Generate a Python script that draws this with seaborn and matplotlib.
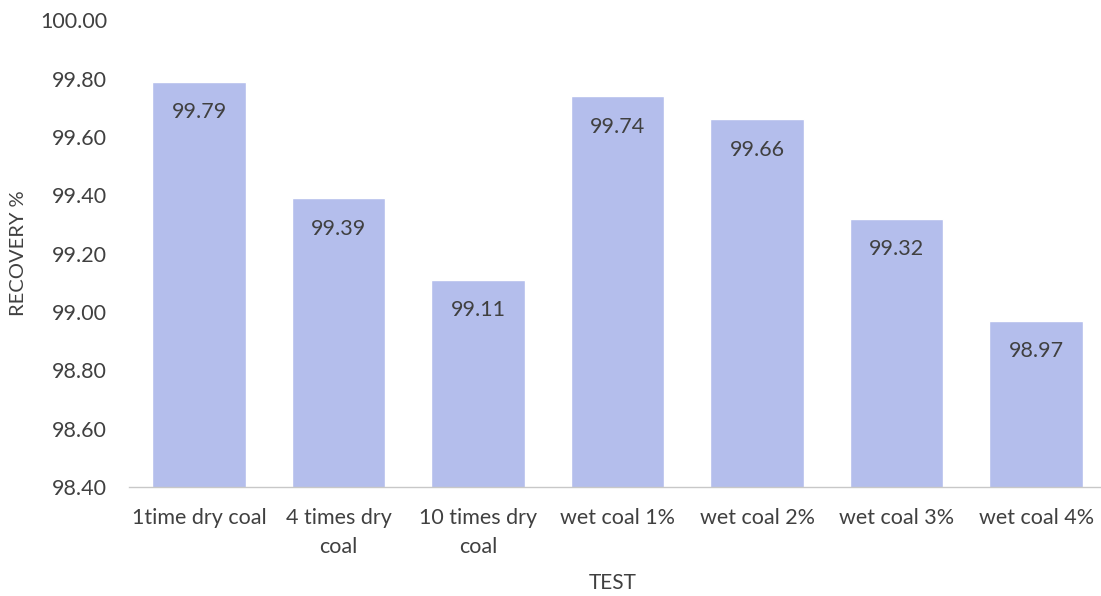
import matplotlib
matplotlib.use("Agg")
import matplotlib.pyplot as plt
import seaborn as sns
import pandas as pd

tests = ["1time dry coal", "4 times dry\ncoal", "10 times dry\ncoal",
         "wet coal 1%", "wet coal 2%", "wet coal 3%", "wet coal 4%"]
recovery = [99.79, 99.39, 99.11, 99.74, 99.66, 99.32, 98.97]
y_ticks = [98.40, 98.60, 98.80, 99.00, 99.20, 99.40, 99.60, 99.80, 100.00]

sns.set_theme(style="white")
plt.rcParams["font.family"] = ["Lato", "DejaVu Sans"]

text_color = "#404040"
bar_color = "#B4BEEC"

df = pd.DataFrame({"TEST": tests, "RECOVERY %": recovery})

fig = plt.figure(figsize=(11.01, 5.96), dpi=100)
ax = fig.add_axes([0.1174, 0.183, 0.887, 0.783])

sns.barplot(data=df, x="TEST", y="RECOVERY %", color=bar_color,
            width=0.67, saturation=1, ax=ax)

ax.set_ylim(98.40, 100.00)
ax.set_yticks(y_ticks)
ax.set_yticklabels([f"{v:.2f}" for v in y_ticks], fontsize=15.5, color=text_color)
ax.set_xticks(range(len(tests)))
ax.set_xticklabels(tests, fontsize=15.5, color=text_color, linespacing=1.55)
ax.tick_params(axis="both", length=0)
ax.tick_params(axis="y", pad=16)
ax.tick_params(axis="x", pad=15)

for i, v in enumerate(recovery):
    ax.text(i, v - 0.105, f"{v:.2f}", ha="center", va="center",
            fontsize=15.5, color=text_color)

for side in ["top", "right", "left"]:
    ax.spines[side].set_visible(False)
ax.spines["bottom"].set_color("#C8C8C8")
ax.spines["bottom"].set_linewidth(1)

ax.set_xlabel("TEST", fontsize=15, color=text_color)
ax.set_ylabel("RECOVERY %", fontsize=14.5, color=text_color)
ax.xaxis.set_label_coords(613 / 1101, 1 - 583 / 596, transform=fig.transFigure)
ax.yaxis.set_label_coords(19 / 1101, 1 - 253 / 596, transform=fig.transFigure)
ax.xaxis.label.set_va("center")
ax.yaxis.label.set_va("center")

fig.savefig("out.png", dpi=100, facecolor="white")
